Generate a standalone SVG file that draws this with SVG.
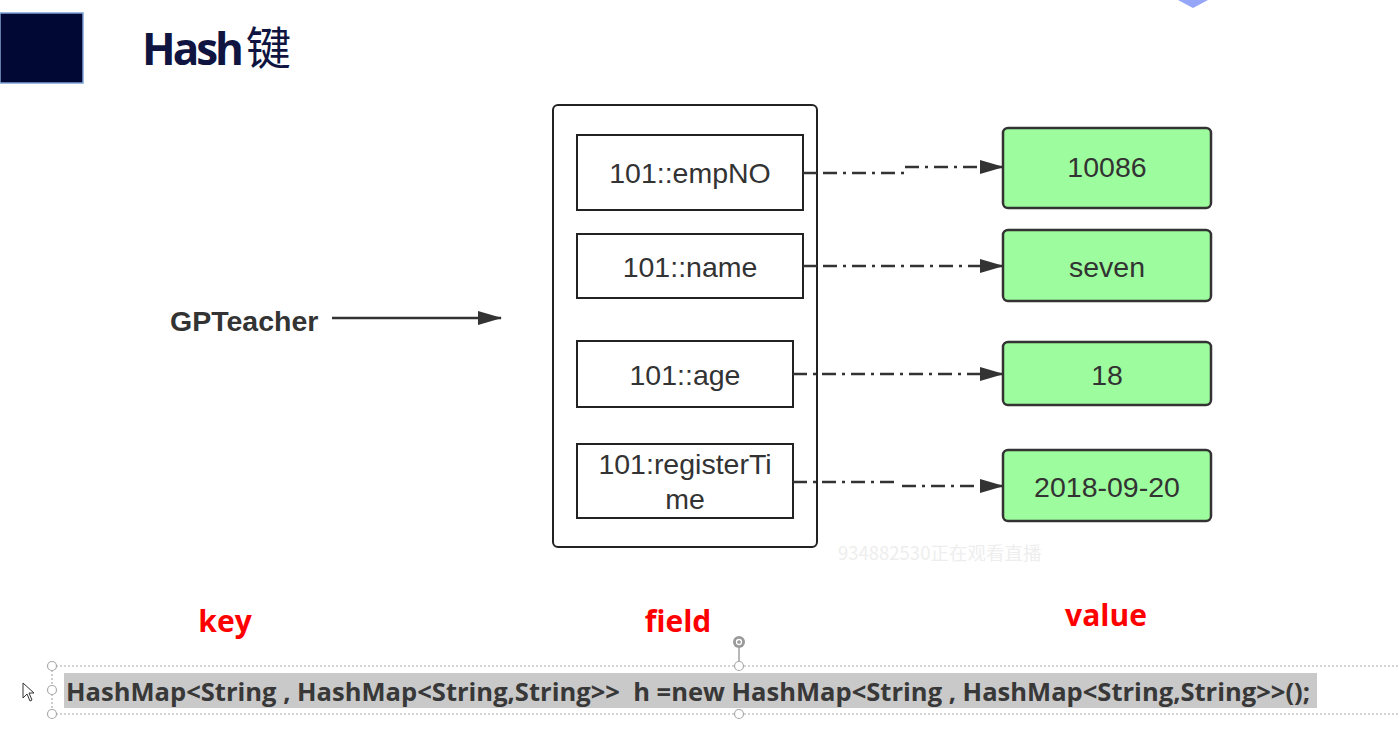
<svg xmlns="http://www.w3.org/2000/svg" width="1399" height="730" viewBox="0 0 1399 730">
<style>
.field{fill:#fff;stroke:#222;stroke-width:2}
.val{fill:#9dfc9d;stroke:#333;stroke-width:2.5}
.ft{font-family:"Liberation Sans",Arial,sans-serif;font-size:28.5px;fill:#333;text-anchor:middle}
.conn{fill:none;stroke:#333;stroke-width:2.5;stroke-dasharray:14,6,3,6}
.solid{fill:none;stroke:#333;stroke-width:2.5}
.lbl{font-family:"Open Sans","Liberation Sans",sans-serif;font-weight:bold;font-size:30px;fill:#ff0000;text-anchor:middle}
.handle{fill:#fff;stroke:#aaa;stroke-width:1.2}
.dot{fill:none;stroke:#aaa;stroke-width:1.2;stroke-dasharray:2,2}
</style>
<defs>
<marker id="ah" markerWidth="24" markerHeight="14" refX="23" refY="7" orient="auto" markerUnits="userSpaceOnUse">
<path d="M0,0 L24,7 L0,14 Z" fill="#333"/>
</marker>
</defs>
<rect width="1399" height="730" fill="#fff"/>
<g id="header">
<rect x="0" y="13" width="83" height="70" fill="#000833" stroke="#7fa3d6" stroke-width="1.5"/>
<text x="142" y="65" font-family="'Open Sans','Liberation Sans','Noto Sans CJK SC',sans-serif" font-size="44" fill="#0f1540"><tspan font-weight="bold" letter-spacing="-3">Hash</tspan><tspan dx="5" font-family="'Noto Sans CJK SC',sans-serif" font-size="45">键</tspan></text>
<path d="M1178,0 L1208,0 L1193,8 Z" fill="#7b8ff5" opacity="0.8"/>
</g>
<g id="key">
<text x="170" y="331" font-family="'Liberation Sans',Arial,sans-serif" font-weight="bold" font-size="28.5" fill="#333">GPTeacher</text>
</g>
<g id="container">
<rect x="553" y="105" width="264" height="442" rx="5" fill="#fff" stroke="#222" stroke-width="2"/>
</g>
<g id="f-empNO"><rect class="field" x="577" y="135" width="226" height="75"/><text class="ft" x="690" y="183">101::empNO</text></g>
<g id="f-name"><rect class="field" x="577" y="234" width="226" height="64"/><text class="ft" x="690" y="277">101::name</text></g>
<g id="f-age"><rect class="field" x="577" y="341" width="216" height="66"/><text class="ft" x="685" y="385">101::age</text></g>
<g id="f-reg"><rect class="field" x="577" y="444" width="216" height="74"/><text class="ft" x="685" y="474">101:registerTi</text><text class="ft" x="685" y="509">me</text></g>
<g id="v-10086"><rect class="val" x="1003" y="128" width="208" height="80" rx="5"/><text class="ft" x="1107" y="177">10086</text></g>
<g id="v-seven"><rect class="val" x="1003" y="230" width="208" height="71" rx="5"/><text class="ft" x="1107" y="277">seven</text></g>
<g id="v-18"><rect class="val" x="1003" y="342" width="208" height="63" rx="5"/><text class="ft" x="1107" y="385">18</text></g>
<g id="v-date"><rect class="val" x="1003" y="450" width="208" height="71" rx="5"/><text class="ft" x="1107" y="497">2018-09-20</text></g>
<g id="connectors">
<line class="solid" x1="332" y1="318" x2="501" y2="318" marker-end="url(#ah)"/>
<line class="solid" x1="803" y1="173" x2="817" y2="173"/>
<path class="conn" d="M823,173 L905,173 M905,167 L1003,167" marker-end="url(#ah)"/>
<line class="solid" x1="803" y1="266" x2="817" y2="266"/>
<path class="conn" d="M823,266 L1003,266" marker-end="url(#ah)"/>
<path class="conn" d="M793,374 L1003,374" marker-end="url(#ah)"/>
<path class="conn" d="M793,482 L898,482 M902,486 L1003,486" marker-end="url(#ah)"/>
</g>
<text x="838" y="560" font-family="'Noto Sans CJK SC',sans-serif" font-size="18.5" fill="#eeeeee">934882530正在观看直播</text>
<g id="labels">
<text class="lbl" x="225" y="632">key</text>
<text class="lbl" x="678" y="632">field</text>
<text class="lbl" x="1106" y="626">value</text>
</g>
<g id="code">
<line class="dot" x1="52" y1="666" x2="1399" y2="666"/>
<line class="dot" x1="52" y1="714" x2="1399" y2="714"/>
<line class="dot" x1="52" y1="666" x2="52" y2="714"/>
<rect x="64" y="673" width="1253" height="35" fill="#c9c9c9"/>
<text x="66" y="701" font-family="'Open Sans','Liberation Sans',sans-serif" font-weight="bold" font-size="25" fill="#383838" textLength="1244" lengthAdjust="spacingAndGlyphs" xml:space="preserve">HashMap&lt;String , HashMap&lt;String,String&gt;&gt;  h =new HashMap&lt;String , HashMap&lt;String,String&gt;&gt;();</text>
<line x1="739" y1="648" x2="739" y2="666" stroke="#888" stroke-width="1.2"/>
<circle cx="739" cy="642" r="6" fill="#999"/>
<circle cx="739" cy="642" r="2.5" fill="none" stroke="#fff" stroke-width="1.3"/>
<circle class="handle" cx="52" cy="666" r="4.5"/>
<circle class="handle" cx="52" cy="690" r="4.5"/>
<circle class="handle" cx="52" cy="714" r="4.5"/>
<circle class="handle" cx="739" cy="666" r="4.5"/>
<circle class="handle" cx="739" cy="714" r="4.5"/>
<path d="M23,683 L23,698 L27,694 L30,701 L32,700 L29,693 L34,693 Z" fill="#fff" stroke="#333" stroke-width="1"/>
</g>
</svg>
